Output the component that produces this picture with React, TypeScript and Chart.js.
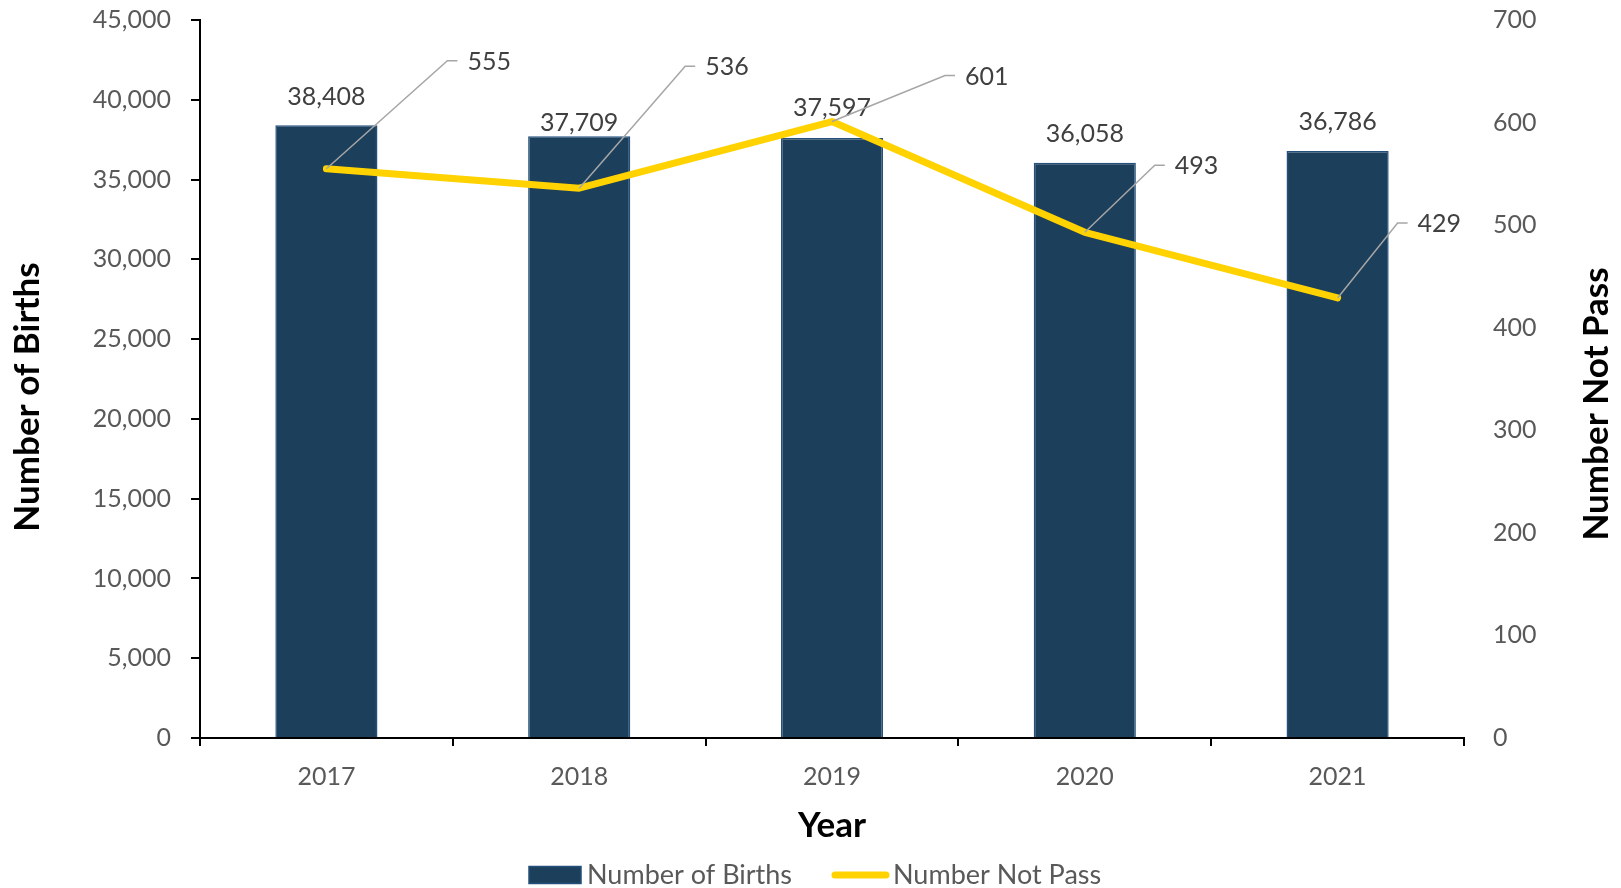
import { useEffect, useRef } from 'react';
import { Chart, registerables } from 'chart.js';

Chart.register(...registerables);

// ---- data ----
const years = ['2017', '2018', '2019', '2020', '2021'];
const births = [38408, 37709, 37597, 36058, 36786];
const notPass = [555, 536, 601, 493, 429];
const birthsAxis = { min: 0, max: 45000, step: 5000 };
const notPassAxis = { min: 0, max: 700, step: 100 };

// ---- label placement (px, not data) ----
const barLabelLift = [28, 13, 30, 29, 29];
const leaderElbow: [number, number][] = [
  [121, -108],
  [106, -122],
  [113, -46],
  [70, -67],
  [60, -75],
];

const FONT = 'Lato, "Open Sans", sans-serif';
const W = 1621;
const H = 888;
const BAR_FILL = '#1c3f5b';
const BAR_EDGE = '#24507c';
const LINE_COLOR = '#ffd200';

const fmt = (v: number) => v.toLocaleString('en-US');

const overlay = {
  id: 'overlay',
  afterDatasetsDraw(chart: any) {
    const ctx = chart.ctx as CanvasRenderingContext2D;
    ctx.save();
    const barMeta = chart.getDatasetMeta(0);
    ctx.font = `25px ${FONT}`;
    ctx.fillStyle = '#404040';
    ctx.textAlign = 'center';
    ctx.textBaseline = 'middle';
    barMeta.data.forEach((el: any, i: number) => {
      ctx.fillText(fmt(births[i]), el.x, el.y - barLabelLift[i]);
    });
    const lineMeta = chart.getDatasetMeta(1);
    lineMeta.data.forEach((el: any, i: number) => {
      const [dx, dy] = leaderElbow[i];
      const ex = el.x + dx;
      const ey = el.y + dy;
      ctx.strokeStyle = '#a6a6a6';
      ctx.lineWidth = 1.5;
      ctx.beginPath();
      ctx.moveTo(el.x, el.y);
      ctx.lineTo(ex, ey);
      ctx.lineTo(ex + 10, ey);
      ctx.stroke();
      ctx.fillStyle = '#404040';
      ctx.textAlign = 'left';
      ctx.textBaseline = 'middle';
      ctx.fillText(fmt(notPass[i]), ex + 20, ey + 1);
    });
    ctx.restore();
  },
  afterDraw(chart: any) {
    const ctx = chart.ctx as CanvasRenderingContext2D;
    ctx.save();
    ctx.fillStyle = '#000';
    ctx.font = `bold 35px ${FONT}`;
    ctx.textAlign = 'center';
    ctx.textBaseline = 'middle';
    ctx.save();
    ctx.translate(28, 397);
    ctx.rotate(-Math.PI / 2);
    ctx.fillText('Number of Births', 0, 0);
    ctx.restore();
    ctx.save();
    ctx.translate(1597, 404);
    ctx.rotate(-Math.PI / 2);
    ctx.fillText('Number Not Pass', 0, 0);
    ctx.restore();
    ctx.fillText('Year', 832, 826);

    // legend
    const ly = 875;
    ctx.fillStyle = BAR_FILL;
    ctx.fillRect(529, 866.5, 52, 17);
    ctx.strokeStyle = BAR_EDGE;
    ctx.lineWidth = 1.5;
    ctx.strokeRect(529, 866.5, 52, 17);
    ctx.font = `27px ${FONT}`;
    ctx.fillStyle = '#595959';
    ctx.textAlign = 'left';
    ctx.fillText('Number of Births', 587, ly);
    ctx.strokeStyle = LINE_COLOR;
    ctx.lineWidth = 7;
    ctx.lineCap = 'round';
    ctx.beginPath();
    ctx.moveTo(835, ly);
    ctx.lineTo(886, ly);
    ctx.stroke();
    ctx.fillText('Number Not Pass', 893, ly);
    ctx.restore();
  },
};

const noPad = (s: any) => {
  s.paddingTop = 0;
  s.paddingBottom = 0;
  s.paddingLeft = 0;
  s.paddingRight = 0;
};

export default function App() {
  const ref = useRef<HTMLCanvasElement | null>(null);
  useEffect(() => {
    if (!ref.current) return;
    const chart = new Chart(ref.current, {
      type: 'bar',
      data: {
        labels: years,
        datasets: [
          {
            type: 'bar',
            label: 'Number of Births',
            data: births,
            yAxisID: 'y',
            backgroundColor: BAR_FILL,
            borderColor: BAR_EDGE,
            borderWidth: 1.5,
            barPercentage: 0.404,
            categoryPercentage: 1,
            order: 2,
          },
          {
            type: 'line',
            label: 'Number Not Pass',
            data: notPass,
            yAxisID: 'y1',
            borderColor: LINE_COLOR,
            backgroundColor: LINE_COLOR,
            borderWidth: 7,
            borderCapStyle: 'round',
            borderJoinStyle: 'round',
            pointRadius: 0,
            tension: 0,
            order: 1,
          } as any,
        ],
      },
      options: {
        animation: false,
        responsive: false,
        devicePixelRatio: 1,
        layout: { padding: { top: 20, left: 0, right: 0, bottom: 0 } },
        plugins: {
          legend: { display: false },
          tooltip: { enabled: false },
        },
        scales: {
          x: {
            grid: {
              display: true,
              drawOnChartArea: false,
              drawTicks: true,
              tickLength: 8,
              color: '#000',
              lineWidth: 2,
            },
            border: { display: true, color: '#000', width: 2 },
            ticks: {
              color: '#595959',
              font: { family: FONT, size: 25 },
              padding: 16,
            },
            afterFit: (s: any) => {
              s.height = 150;
              noPad(s);
            },
          },
          y: {
            position: 'left',
            min: birthsAxis.min,
            max: birthsAxis.max,
            grid: {
              display: true,
              drawOnChartArea: false,
              drawTicks: true,
              tickLength: 9,
              color: '#000',
              lineWidth: 2,
            },
            border: { display: true, color: '#000', width: 2 },
            ticks: {
              stepSize: birthsAxis.step,
              color: '#595959',
              font: { family: FONT, size: 25 },
              padding: 20,
              callback: (v: any) => fmt(Number(v)),
            },
            afterFit: (s: any) => {
              s.width = 200;
              noPad(s);
            },
          },
          y1: {
            position: 'right',
            min: notPassAxis.min,
            max: notPassAxis.max,
            grid: { display: false, drawTicks: false },
            border: { display: false },
            ticks: {
              stepSize: notPassAxis.step,
              color: '#595959',
              font: { family: FONT, size: 25 },
              padding: 29,
              callback: (v: any) => fmt(Number(v)),
            },
            afterFit: (s: any) => {
              s.width = 157;
              noPad(s);
            },
          },
        },
      },
      plugins: [overlay],
    });
    return () => chart.destroy();
  }, []);
  return (
    <div style={{ position: 'fixed', left: 0, top: 0, width: W, height: H, background: '#fff' }}>
      <canvas ref={ref} width={W} height={H} style={{ display: 'block' }} />
    </div>
  );
}
